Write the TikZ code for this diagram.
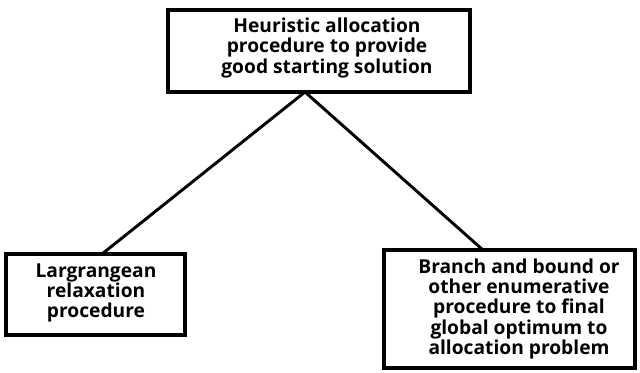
\documentclass[tikz,border=0pt]{standalone}
\usepackage{fontspec}
\setmainfont{Open Sans}[UprightFont=* Bold]
\begin{document}
\begin{tikzpicture}[x=0.75pt,y=-0.75pt,
  box/.style={draw=black,line width=2.6pt},
  lbl/.style={align=center,font=\fontsize{14.4}{15.2}\selectfont,inner sep=0pt},
  conn/.style={line width=2.2pt}]
\useasboundingbox (0,0) rectangle (640,372);
\draw[box] (168,10) rectangle (470,92);
\draw[box] (6,254) rectangle (185,335);
\draw[box] (384,250) rectangle (635,368);
\node[lbl] (top) at (327,48) {Heuristic allocation\\procedure to provide\\good starting solution};
\node[lbl] (left) at (96,293) {Largrangean\\relaxation\\procedure};
\node[lbl] (right) at (519,309) {Branch and bound or\\other enumerative\\procedure to final\\global optimum to\\allocation problem};
\coordinate (apex) at (305,92);
\coordinate (lt) at (102,254);
\coordinate (rt) at (483,250);
\draw[conn] (apex) -- (lt);
\draw[conn] (apex) -- (rt);
\end{tikzpicture}
\end{document}
